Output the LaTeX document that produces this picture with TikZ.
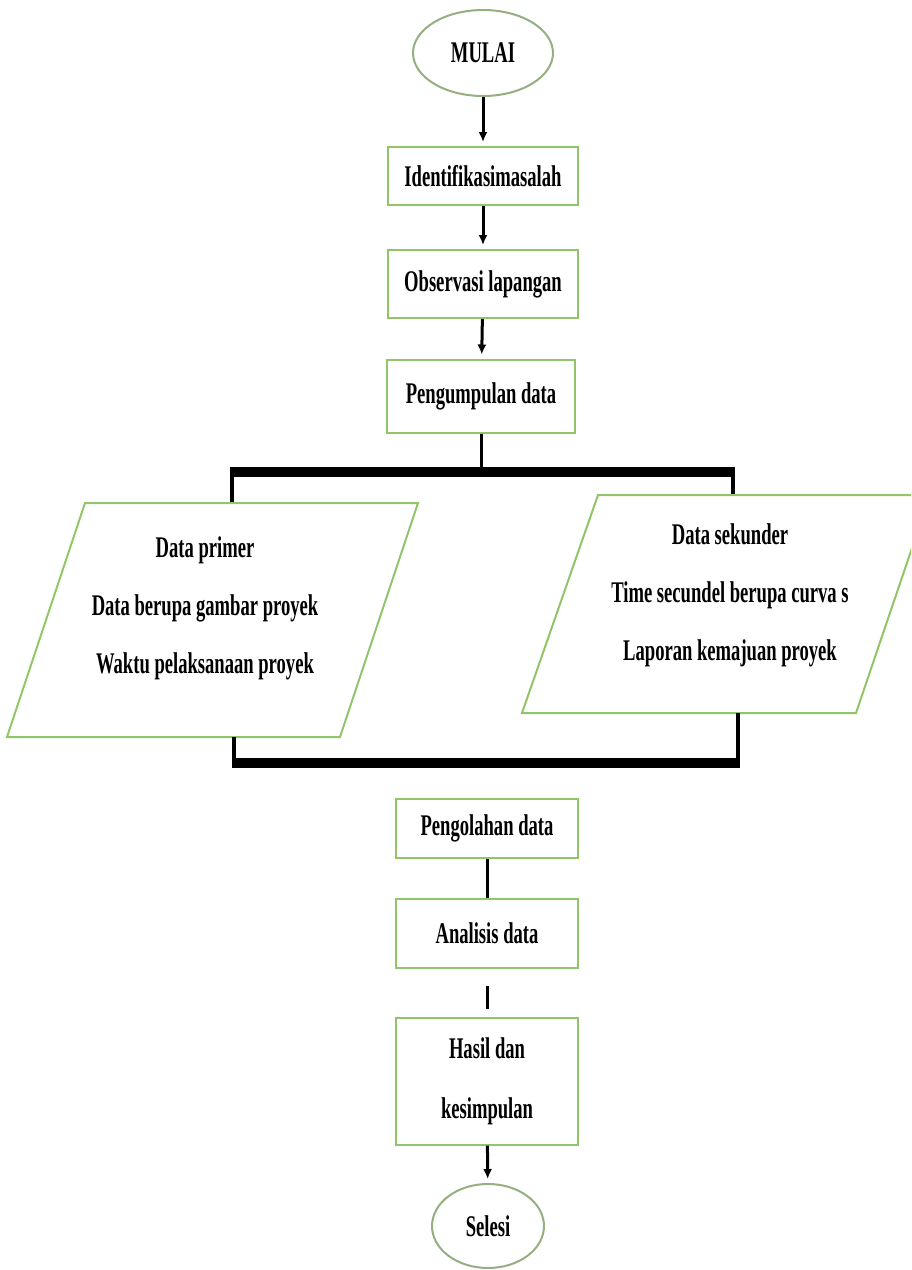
\documentclass[tikz,border=0pt]{standalone}
\usepackage{fontspec}
\setmainfont{Liberation Serif}[FakeStretch=0.62]
\usetikzlibrary{shapes.geometric,arrows.meta}
\definecolor{hijau}{RGB}{146,196,104}
\definecolor{abuhijau}{RGB}{150,175,130}

\begin{document}
\begin{tikzpicture}[x=0.5pt,y=-0.5pt,
    huruf/.style={font=\bfseries\fontsize{15}{18}\selectfont},
    kotak/.style={huruf, draw=hijau, line width=1pt, fill=white, inner sep=0pt, align=center},
    bulat/.style={huruf, ellipse, draw=abuhijau, line width=1pt, fill=white, inner sep=0pt},
    teks/.style={huruf, align=center, inner sep=0pt},
    jajar/.style={draw=hijau, line width=1pt, fill=white},
    panah/.style={line width=1.5pt, -{Latex[length=5pt,width=4.5pt]}, shorten >=2pt},
    garisp/.style={line width=1.5pt},
    tiang/.style={line width=2pt},
    batang/.style={line width=5pt}]
        \useasboundingbox (0,0) rectangle (911,1270);
        \clip (0,0) rectangle (911,1270);

        % alur atas
        \node[bulat, minimum width=70pt, minimum height=43pt] (mulai) at (483,53) {MULAI};
        \node[kotak, minimum width=95pt, minimum height=29pt] (identifikasi) at (483,176) {Identifikasimasalah};
        \node[kotak, minimum width=95pt, minimum height=34pt] (observasi) at (483,284) {Observasi lapangan};
        \node[kotak, minimum width=94pt, minimum height=36.5pt] (pengumpulan) at (481,396) {Pengumpulan data};

        \draw[panah] (mulai) -- (identifikasi);
        \draw[panah] (identifikasi) -- (observasi);
        \draw[panah] (observasi) -- (pengumpulan);

        % cabang data
        \coordinate (cabangKiri) at (232,472);
        \coordinate (cabangKanan) at (733,472);
        \coordinate (atasPrimer) at (232,503);
        \coordinate (atasSekunder) at (733,495);
        \draw[garisp] (pengumpulan) -- (pengumpulan |- cabangKiri);
        \draw[batang] ([xshift=-1pt]cabangKiri) -- ([xshift=1pt]cabangKanan);
        \draw[tiang] (cabangKiri) -- (atasPrimer);
        \draw[tiang] (cabangKanan) -- (atasSekunder);

        \filldraw[jajar] (85,503) -- (418,503) -- (340,737) -- (7,737) -- cycle;
        \filldraw[jajar] (598,495) -- (930,495) -- (856,713) -- (522,713) -- cycle;
        \node[teks] (primer) at (205,608) {Data primer\\[11pt]Data berupa gambar proyek\\[11pt]Waktu pelaksanaan proyek};
        \node[teks] (sekunder) at (730,595) {Data sekunder\\[11pt]Time secundel berupa curva s\\[11pt]Laporan kemajuan proyek};

        % gabung
        \coordinate (bawahPrimer) at (234,737);
        \coordinate (bawahSekunder) at (738,713);
        \coordinate (gabungKiri) at (234,763);
        \coordinate (gabungKanan) at (738,763);
        \draw[tiang] (bawahPrimer) -- (gabungKiri);
        \draw[tiang] (bawahSekunder) -- (gabungKanan);
        \draw[batang] ([xshift=-1pt]gabungKiri) -- ([xshift=1pt]gabungKanan);

        % alur bawah
        \node[kotak, minimum width=91pt, minimum height=29.5pt] (pengolahan) at (487,828) {Pengolahan data};
        \node[kotak, minimum width=91pt, minimum height=34.5pt] (analisis) at (487,933) {Analisis data};
        \node[kotak, minimum width=91pt, minimum height=63.5pt] (hasil) at (487,1081) {Hasil dan\\[12pt]kesimpulan};
        \node[bulat, minimum width=56pt, minimum height=42pt] (selesai) at (488,1226) {Selesi};

        \draw[garisp] (pengolahan) -- (analisis);
        \draw[garisp] ([yshift=-8.5pt]analisis.south) -- ([yshift=4pt]hasil.north);
        \draw[panah] (hasil) -- (selesai);

\end{tikzpicture}
\end{document}
